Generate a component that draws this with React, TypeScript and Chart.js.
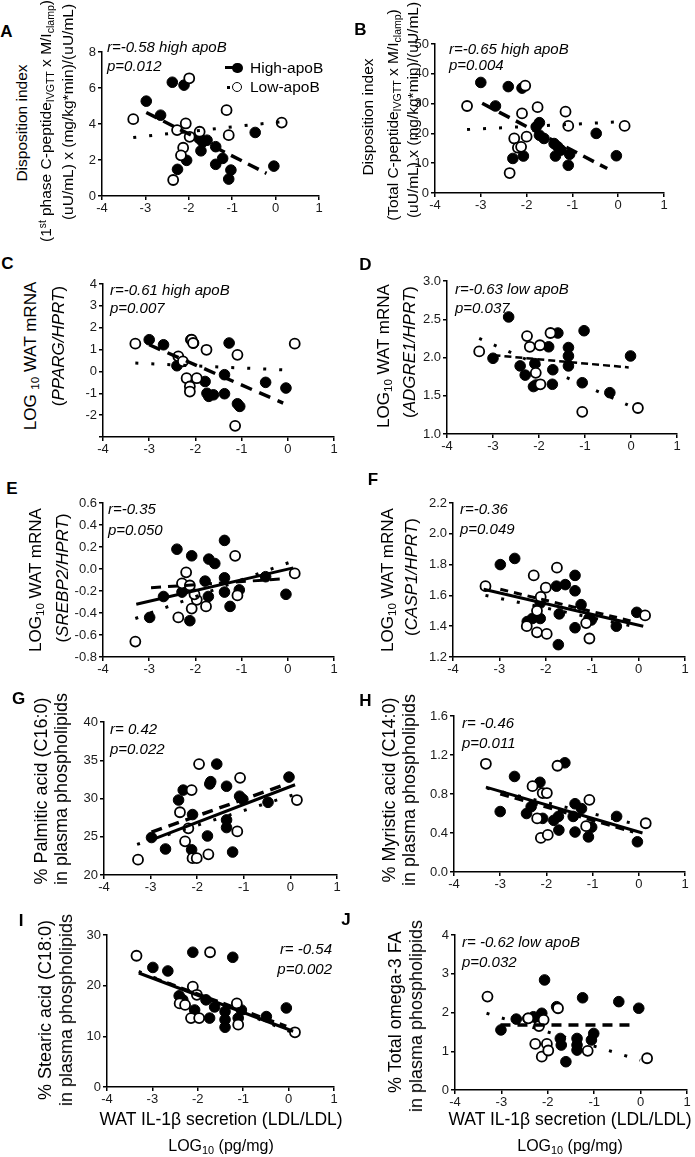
import React, { useEffect, useRef } from 'react';
import { Chart, registerables } from 'chart.js';

Chart.register(...registerables);

type Pt = [number, number];

const FONT = '"Liberation Sans", Arial, Helvetica, sans-serif';

// ---------- shared x axis ----------
const X_MIN = -4;
const X_MAX = 1;
const X_STEP = 1;

// ---------- A ----------
const A_HIGH: Pt[] = [[-2.98, 5.27], [-2.65, 4.49], [-2.38, 6.32], [-2.11, 6.16], [-2.26, 1.48], [-2.05, 1.98], [-1.76, 3.2], [-1.68, 3.0], [-1.58, 3.1], [-1.72, 2.51], [-1.38, 2.74], [-1.22, 2.09], [-1.38, 1.76], [-1.03, 1.44], [-1.08, 0.94], [-0.47, 3.53], [-0.04, 1.66]];
const A_LOW: Pt[] = [[-3.28, 4.27], [-1.99, 6.54], [-2.36, 0.89], [-2.27, 3.66], [-2.07, 4.03], [-1.98, 3.29], [-2.13, 2.68], [-2.18, 2.26], [-1.75, 3.57], [-1.13, 4.77], [-1.08, 3.38], [0.14, 4.08]];
const A_FIT_HIGH: Pt[] = [[-2.98, 4.64], [-0.21, 1.26]];
const A_FIT_LOW: Pt[] = [[-3.28, 3.25], [0.1, 4.12]];

// ---------- B ----------
const B_HIGH: Pt[] = [[-3.0, 37.1], [-2.68, 29.2], [-2.4, 35.7], [-2.1, 35.2], [-2.3, 11.6], [-2.07, 12.4], [-1.79, 22.2], [-1.72, 23.6], [-1.72, 19.4], [-1.62, 18.3], [-1.4, 16.6], [-1.32, 15.5], [-1.37, 12.4], [-1.25, 14.4], [-1.06, 13.0], [-1.09, 9.3], [-0.48, 20.0], [-0.04, 12.5]];
const B_LOW: Pt[] = [[-3.3, 29.2], [-2.37, 6.7], [-2.27, 18.3], [-2.19, 15.2], [-2.12, 15.5], [-2.1, 26.7], [-2.0, 18.9], [-2.03, 36.0], [-1.76, 28.8], [-1.15, 27.3], [-1.09, 22.5], [0.14, 22.5]];
const B_FIT_HIGH: Pt[] = [[-2.97, 30.1], [-0.24, 8.2]];
const B_FIT_LOW: Pt[] = [[-3.3, 21.3], [0.05, 23.9]];

// ---------- C ----------
const C_HIGH: Pt[] = [[-3.0, 1.45], [-2.69, 1.22], [-2.4, 0.26], [-2.29, 0.46], [-2.1, 1.45], [-2.04, 1.3], [-1.79, -0.46], [-1.71, -1.14], [-1.75, -1.0], [-1.61, -1.07], [-1.37, -1.02], [-1.37, -0.15], [-1.27, 1.3], [-1.09, -1.48], [-1.04, -1.6], [-0.48, -0.5], [-0.04, -0.76]];
const C_LOW: Pt[] = [[-3.3, 1.27], [-2.37, 0.69], [-2.27, 0.46], [-2.19, -0.31], [-2.12, -0.69], [-2.12, -0.92], [-2.08, 1.45], [-2.05, 1.3], [-1.97, -0.31], [-1.76, 0.99], [-1.09, 0.76], [-1.14, -2.49], [0.15, 1.27]];
const C_FIT_HIGH: Pt[] = [[-3.0, 1.22], [-0.1, -1.45]];
const C_FIT_LOW: Pt[] = [[-3.3, 0.38], [0.12, 0.05]];

// ---------- D ----------
const D_HIGH: Pt[] = [[-3.0, 1.99], [-2.66, 2.53], [-2.41, 1.89], [-2.3, 1.77], [-2.09, 1.92], [-2.07, 1.64], [-2.12, 1.62], [-1.79, 2.14], [-1.7, 1.84], [-1.71, 1.65], [-1.59, 2.32], [-1.36, 2.13], [-1.36, 2.02], [-1.36, 1.89], [-1.02, 2.35], [-1.06, 1.67], [-0.46, 1.54], [-0.01, 2.02]];
const D_LOW: Pt[] = [[-3.3, 2.08], [-2.26, 2.28], [-2.2, 2.14], [-1.98, 2.16], [-2.07, 1.8], [-1.97, 1.65], [-1.75, 2.32], [-1.06, 1.29], [0.15, 1.34]];
const D_FIT_HIGH: Pt[] = [[-2.99, 2.03], [-0.05, 1.87]];
const D_FIT_LOW: Pt[] = [[-3.3, 2.25], [-0.07, 1.38]];

// ---------- E ----------
const E_HIGH: Pt[] = [[-2.99, -0.44], [-2.69, -0.25], [-2.4, 0.18], [-2.29, -0.21], [-2.08, 0.12], [-2.12, -0.47], [-1.79, -0.11], [-1.71, 0.09], [-1.58, 0.05], [-1.72, -0.25], [-1.37, 0.26], [-1.37, -0.08], [-1.37, -0.21], [-1.25, -0.34], [-1.05, -0.19], [-0.48, -0.07], [-0.04, -0.23]];
const E_LOW: Pt[] = [[-3.3, -0.66], [-2.37, -0.44], [-2.2, -0.03], [-2.29, -0.13], [-2.12, -0.15], [-2.08, -0.36], [-1.97, -0.28], [-2.02, -0.23], [-1.77, -0.34], [-1.14, 0.12], [-1.09, -0.24], [0.15, -0.04]];
const E_FIT_ALL: Pt[] = [[-3.28, -0.32], [0.12, 0.01]];
const E_FIT_HIGH: Pt[] = [[-2.96, -0.17], [-0.12, -0.09]];
const E_FIT_LOW: Pt[] = [[-3.3, -0.45], [0.1, 0.07]];

// ---------- F ----------
const F_HIGH: Pt[] = [[-2.98, 1.8], [-2.67, 1.84], [-2.4, 1.43], [-2.29, 1.45], [-2.12, 1.55], [-2.12, 1.45], [-1.77, 1.66], [-1.73, 1.28], [-1.71, 1.48], [-1.58, 1.67], [-1.37, 1.73], [-1.37, 1.63], [-1.37, 1.39], [-1.24, 1.54], [-1.02, 1.44], [-1.07, 1.45], [-0.48, 1.4], [-0.04, 1.49]];
const F_LOW: Pt[] = [[-3.3, 1.66], [-2.26, 1.73], [-2.11, 1.59], [-2.19, 1.5], [-2.19, 1.36], [-1.98, 1.35], [-2.41, 1.4], [-2.0, 1.65], [-1.76, 1.78], [-1.13, 1.42], [-1.06, 1.32], [0.14, 1.47]];
const F_FIT_ALL: Pt[] = [[-3.34, 1.64], [0.1, 1.4]];
const F_FIT_HIGH: Pt[] = [[-2.98, 1.64], [-0.11, 1.43]];
const F_FIT_LOW: Pt[] = [[-3.3, 1.6], [0.03, 1.39]];

// ---------- G ----------
const G_HIGH: Pt[] = [[-2.98, 24.9], [-2.68, 23.4], [-2.4, 29.8], [-2.3, 31.1], [-2.1, 27.9], [-2.12, 23.3], [-1.78, 25.1], [-1.73, 31.9], [-1.71, 32.2], [-1.58, 34.5], [-1.37, 31.6], [-1.37, 27.2], [-1.37, 26.2], [-1.24, 23.0], [-1.09, 30.3], [-1.02, 29.9], [-0.48, 29.5], [-0.03, 32.8]];
const G_LOW: Pt[] = [[-3.27, 22.0], [-2.37, 28.2], [-2.12, 31.1], [-2.19, 26.1], [-2.26, 24.4], [-2.1, 22.2], [-2.01, 22.2], [-1.96, 34.5], [-1.76, 22.7], [-1.08, 32.7], [-1.14, 25.7], [0.14, 29.8]];
const G_FIT_ALL: Pt[] = [[-2.98, 24.6], [0.1, 31.8]];
const G_FIT_HIGH: Pt[] = [[-2.98, 25.6], [-0.08, 31.9]];
const G_FIT_LOW: Pt[] = [[-3.29, 24.0], [0.07, 30.5]];

// ---------- H ----------
const H_HIGH: Pt[] = [[-3.0, 0.62], [-2.69, 0.98], [-2.43, 0.6], [-2.33, 0.67], [-2.14, 0.92], [-2.08, 0.55], [-1.84, 0.53], [-1.74, 0.57], [-1.73, 0.43], [-1.6, 1.12], [-1.38, 0.7], [-1.42, 0.57], [-1.38, 0.41], [-1.24, 0.65], [-1.09, 0.36], [-1.02, 0.46], [-0.48, 0.57], [-0.03, 0.31]];
const H_LOW: Pt[] = [[-3.31, 1.11], [-2.3, 0.88], [-2.2, 0.55], [-2.12, 0.35], [-1.97, 0.38], [-2.08, 0.81], [-1.99, 0.81], [-1.76, 1.09], [-1.14, 0.47], [-1.07, 0.74], [0.15, 0.5]];
const H_FIT_ALL: Pt[] = [[-3.31, 0.87], [0.08, 0.4]];
const H_FIT_HIGH: Pt[] = [[-3.0, 0.8], [-0.12, 0.41]];
const H_FIT_LOW: Pt[] = [[-3.29, 0.86], [0.03, 0.48]];

// ---------- I ----------
const I_HIGH: Pt[] = [[-2.99, 23.6], [-2.66, 22.9], [-2.41, 18.0], [-2.33, 17.2], [-2.11, 26.6], [-2.07, 15.2], [-1.82, 17.2], [-1.74, 13.6], [-1.63, 15.8], [-1.4, 14.9], [-1.4, 13.3], [-1.4, 11.8], [-1.23, 25.6], [-1.11, 13.6], [-1.04, 15.2], [-0.49, 13.9], [-0.05, 15.6]];
const I_LOW: Pt[] = [[-3.35, 25.9], [-2.4, 16.5], [-2.28, 16.2], [-2.11, 19.8], [-2.15, 13.6], [-1.97, 13.6], [-2.02, 18.2], [-1.73, 26.6], [-1.14, 16.5], [-1.11, 12.3], [0.14, 10.8]];
const I_FIT_ALL: Pt[] = [[-3.3, 22.5], [0.1, 11.0]];
const I_FIT_HIGH: Pt[] = [[-2.99, 21.6], [-0.05, 12.0]];
const I_FIT_LOW: Pt[] = [[-3.3, 22.8], [0.1, 10.7]];

// ---------- J ----------
const J_HIGH: Pt[] = [[-3.01, 1.55], [-2.68, 1.83], [-2.43, 1.85], [-2.31, 1.89], [-2.13, 1.98], [-2.07, 2.84], [-2.2, 1.81], [-1.81, 2.15], [-1.73, 1.33], [-1.71, 1.16], [-1.61, 0.73], [-1.37, 1.33], [-1.37, 1.16], [-1.37, 1.03], [-1.25, 2.38], [-1.06, 1.29], [-1.01, 1.46], [-0.47, 2.28], [-0.04, 2.11]];
const J_LOW: Pt[] = [[-3.3, 2.41], [-2.42, 1.85], [-2.19, 1.65], [-2.09, 1.81], [-2.27, 1.19], [-2.13, 0.86], [-2.02, 1.19], [-1.99, 1.02], [-1.78, 2.11], [-1.14, 1.01], [0.14, 0.82]];
const J_FIT_HIGH: Pt[] = [[-3.02, 1.68], [-0.12, 1.68]];
const J_FIT_LOW: Pt[] = [[-3.32, 1.98], [-0.01, 0.77]];

// ---------- layout / style ----------
const YW = 46, XH = 30, PT = 10, PR = 14;

interface TitleLine { node: React.ReactNode; x: number; y: number; }
interface PanelDef {
  key: string;
  letter: [number, number];
  box: [number, number, number, number];
  yMin: number; yMax: number; yStep: number; yDec: number; hideY?: number[];
  high: Pt[]; low: Pt[];
  fitAll?: Pt[]; fitHigh?: Pt[]; fitLow?: Pt[];
  dash: number[]; dashW: number;
  titleSize: number; title: TitleLine[];
  ann: { r: string; p: string; x: number; yr: number; yp: number; right?: boolean };
}

const sub = (t: string) => <span style={{ fontSize: '0.68em', verticalAlign: '-0.28em' }}>{t}</span>;
const sup = (t: string) => <span style={{ fontSize: '0.65em', verticalAlign: '0.5em' }}>{t}</span>;
const it = (t: string) => <span style={{ fontStyle: 'italic' }}>{t}</span>;

const LOG_WAT = <>LOG{sub('10')} WAT mRNA</>;

const PANELS: PanelDef[] = [
  {
    key: 'A', letter: [6.5, 31], box: [102, 52, 319, 196], yMin: 0, yMax: 8, yStep: 2, yDec: 0,
    high: A_HIGH, low: A_LOW, fitHigh: A_FIT_HIGH, fitLow: A_FIT_LOW, dash: [12, 7], dashW: 3.5,
    titleSize: 15.5,
    title: [
      { node: 'Disposition index', x: 21.5, y: 123 },
      { node: <>(1{sup('st')} phase C-peptide{sub('IVGTT')} x M/I{sub('clamp')})</>, x: 47, y: 121 },
      { node: '(uU/mL) x (mg/kg*min)/(uU/mL)', x: 67.5, y: 112 },
    ],
    ann: { r: 'r=-0.58 high apoB', p: 'p=0.012', x: 107, yr: 46, yp: 64.5 },
  },
  {
    key: 'B', letter: [360.5, 29], box: [435, 44, 664, 193], yMin: 0, yMax: 50, yStep: 10, yDec: 0,
    high: B_HIGH, low: B_LOW, fitHigh: B_FIT_HIGH, fitLow: B_FIT_LOW, dash: [12, 7], dashW: 3.5,
    titleSize: 15.5,
    title: [
      { node: 'Disposition index', x: 367.5, y: 117 },
      { node: <>(Total C-peptide{sub('IVGTT')} x M/I{sub('clamp')})</>, x: 393.5, y: 115 },
      { node: '(uU/mL) x (mg/kg*min)/(uU/mL)', x: 413, y: 110 },
    ],
    ann: { r: 'r=-0.65 high apoB', p: 'p=0.004', x: 449, yr: 47.5, yp: 64 },
  },
  {
    key: 'C', letter: [7.5, 262.5], box: [103, 284, 334, 437], yMin: -3, yMax: 4, yStep: 1, yDec: 0, hideY: [-3],
    high: C_HIGH, low: C_LOW, fitHigh: C_FIT_HIGH, fitLow: C_FIT_LOW, dash: [12, 8], dashW: 3.5,
    titleSize: 17,
    title: [
      { node: <>LOG {sub('10')} WAT mRNA</>, x: 32, y: 356 },
      { node: <>({it('PPARG/HPRT')})</>, x: 57.5, y: 346 },
    ],
    ann: { r: 'r=-0.61 high apoB', p: 'p=0.007', x: 110, yr: 289, yp: 307 },
  },
  {
    key: 'D', letter: [365.5, 264], box: [447, 281, 677, 434], yMin: 1, yMax: 3, yStep: 0.5, yDec: 1,
    high: D_HIGH, low: D_LOW, fitHigh: D_FIT_HIGH, fitLow: D_FIT_LOW, dash: [7, 4], dashW: 2.5,
    titleSize: 17,
    title: [
      { node: LOG_WAT, x: 384.5, y: 356 },
      { node: <>({it('ADGRE1/HPRT')})</>, x: 408.5, y: 351.5 },
    ],
    ann: { r: 'r=-0.63 low apoB', p: 'p=0.037', x: 455, yr: 287.5, yp: 307 },
  },
  {
    key: 'E', letter: [12, 488], box: [103, 503, 334, 657], yMin: -0.8, yMax: 0.6, yStep: 0.2, yDec: 1,
    high: E_HIGH, low: E_LOW, fitAll: E_FIT_ALL, fitHigh: E_FIT_HIGH, fitLow: E_FIT_LOW, dash: [10, 7], dashW: 3,
    titleSize: 17,
    title: [
      { node: LOG_WAT, x: 37, y: 580 },
      { node: <>({it('SREBP2/HPRT')})</>, x: 62, y: 578 },
    ],
    ann: { r: 'r=-0.35', p: 'p=0.050', x: 108, yr: 507.5, yp: 529 },
  },
  {
    key: 'F', letter: [373, 479], box: [453, 503, 685, 657], yMin: 1.2, yMax: 2.2, yStep: 0.2, yDec: 1,
    high: F_HIGH, low: F_LOW, fitAll: F_FIT_ALL, fitHigh: F_FIT_HIGH, fitLow: F_FIT_LOW, dash: [8, 6], dashW: 3,
    titleSize: 17,
    title: [
      { node: LOG_WAT, x: 389, y: 580 },
      { node: <>({it('CASP1/HPRT')})</>, x: 411, y: 577 },
    ],
    ann: { r: 'r=-0.36', p: 'p=0.049', x: 460, yr: 507.5, yp: 528 },
  },
  {
    key: 'G', letter: [18.5, 698], box: [104, 722, 337, 875], yMin: 20, yMax: 40, yStep: 5, yDec: 0,
    high: G_HIGH, low: G_LOW, fitAll: G_FIT_ALL, fitHigh: G_FIT_HIGH, fitLow: G_FIT_LOW, dash: [11, 7], dashW: 3.5,
    titleSize: 18,
    title: [
      { node: '% Palmitic acid (C16:0)', x: 41, y: 791 },
      { node: 'in plasma phospholipids', x: 61, y: 789 },
    ],
    ann: { r: 'r= 0.42', p: 'p=0.022', x: 110, yr: 728, yp: 748 },
  },
  {
    key: 'H', letter: [365.5, 700], box: [454, 716, 685, 872], yMin: 0, yMax: 1.6, yStep: 0.4, yDec: 1,
    high: H_HIGH, low: H_LOW, fitAll: H_FIT_ALL, fitHigh: H_FIT_HIGH, fitLow: H_FIT_LOW, dash: [9, 6], dashW: 3,
    titleSize: 18,
    title: [
      { node: '% Myristic acid (C14:0)', x: 389, y: 790 },
      { node: 'in plasma phospholipids', x: 409, y: 790 },
    ],
    ann: { r: 'r= -0.46', p: 'p=0.011', x: 462, yr: 722, yp: 742 },
  },
  {
    key: 'I', letter: [21, 920], box: [107, 935, 334, 1087], yMin: 0, yMax: 30, yStep: 10, yDec: 0,
    high: I_HIGH, low: I_LOW, fitAll: I_FIT_ALL, fitHigh: I_FIT_HIGH, fitLow: I_FIT_LOW, dash: [9, 6], dashW: 3,
    titleSize: 18,
    title: [
      { node: '% Stearic acid (C18:0)', x: 45, y: 1010 },
      { node: 'in plasma phospholipids', x: 66, y: 1010 },
    ],
    ann: { r: 'r= -0.54', p: 'p=0.002', x: 332, yr: 947.5, yp: 967.5, right: true },
  },
  {
    key: 'J', letter: [346, 919], box: [455, 935, 687, 1090], yMin: 0, yMax: 4, yStep: 1, yDec: 0,
    high: J_HIGH, low: J_LOW, fitHigh: J_FIT_HIGH, fitLow: J_FIT_LOW, dash: [10, 7], dashW: 3.5,
    titleSize: 18,
    title: [
      { node: '% Total omega-3 FA', x: 395, y: 1012 },
      { node: 'in plasma phospholipids', x: 416, y: 1016 },
    ],
    ann: { r: 'r= -0.62 low apoB', p: 'p=0.032', x: 462, yr: 941, yp: 961 },
  },
];

function Panel({ def }: { def: PanelDef }) {
  const ref = useRef<HTMLCanvasElement | null>(null);
  const [l, t, r, b] = def.box;
  const w = r - l + YW + PR;
  const h = b - t + PT + XH;
  useEffect(() => {
    const c = ref.current;
    if (!c) return;
    const toXY = (pts: Pt[]) => pts.map(([x, y]) => ({ x, y }));
    const lineSet = (pts: Pt[], dash: number[], width: number) => ({
      data: toXY(pts), showLine: true, borderColor: '#000', backgroundColor: '#000',
      borderWidth: width, borderDash: dash, pointRadius: 0, pointHoverRadius: 0, fill: false,
    });
    const datasets: any[] = [];
    if (def.fitAll) datasets.push(lineSet(def.fitAll, [], 3));
    if (def.fitHigh) datasets.push(lineSet(def.fitHigh, def.dash, def.dashW));
    if (def.fitLow) datasets.push(lineSet(def.fitLow, [3, 13], 3));
    datasets.push({ data: toXY(def.low), showLine: false, pointRadius: 5, pointBackgroundColor: '#fff', pointBorderColor: '#000', pointBorderWidth: 1.8 });
    datasets.push({ data: toXY(def.high), showLine: false, pointRadius: 5.3, pointBackgroundColor: '#000', pointBorderColor: '#000', pointBorderWidth: 1 });
    const tickFont = { family: FONT, size: 13 };
    const chart = new Chart(c, {
      type: 'scatter',
      data: { datasets },
      options: {
        responsive: false,
        animation: false,
        devicePixelRatio: 1,
        events: [],
        layout: { padding: { top: PT, right: PR, left: 0, bottom: 0 } },
        plugins: { legend: { display: false }, tooltip: { enabled: false } },
        scales: {
          x: {
            type: 'linear', position: 'bottom', min: X_MIN, max: X_MAX,
            afterFit: (s: any) => { s.height = XH; },
            ticks: { stepSize: X_STEP, color: '#1a1a1a', font: tickFont, padding: 1, maxRotation: 0, autoSkip: false, callback: (v: any) => String(Math.round(Number(v))) },
            grid: { display: true, drawOnChartArea: false, drawTicks: true, tickLength: 4, color: '#000', lineWidth: 1.5 },
            border: { display: true, color: '#000', width: 1.5 },
          },
          y: {
            type: 'linear', position: 'left', min: def.yMin, max: def.yMax,
            afterFit: (s: any) => { s.width = YW; },
            ticks: {
              stepSize: def.yStep, color: '#1a1a1a', font: tickFont, padding: 2, autoSkip: false,
              callback: (v: any) => {
                let n = Number(v);
                if (Math.abs(n) < 1e-9) n = 0;
                if (def.hideY && def.hideY.some((q) => Math.abs(q - n) < 1e-9)) return '';
                return n.toFixed(def.yDec);
              },
            },
            grid: { display: true, drawOnChartArea: false, drawTicks: true, tickLength: 4, color: '#000', lineWidth: 1.5 },
            border: { display: true, color: '#000', width: 1.5 },
          },
        },
      } as any,
    });
    return () => chart.destroy();
  }, [def]);
  return (
    <canvas
      ref={ref}
      width={w}
      height={h}
      style={{ position: 'absolute', left: l - YW, top: t - PT, width: w, height: h }}
    />
  );
}

function Rot({ x, y, size, children }: { x: number; y: number; size: number; children: React.ReactNode }) {
  return (
    <div style={{ position: 'absolute', left: x, top: y, transform: 'translate(-50%, -50%) rotate(-90deg)', whiteSpace: 'nowrap', fontSize: size, lineHeight: 1, fontFamily: FONT, color: '#000' }}>
      {children}
    </div>
  );
}

function Txt({ x, y, size, children, italic, bold, right, center }: { x: number; y: number; size: number; children: React.ReactNode; italic?: boolean; bold?: boolean; right?: boolean; center?: boolean }) {
  const tx = right ? '-100%' : center ? '-50%' : '0';
  return (
    <div style={{ position: 'absolute', left: x, top: y, transform: `translate(${tx}, -50%)`, whiteSpace: 'nowrap', fontSize: size, lineHeight: 1, fontFamily: FONT, fontStyle: italic ? 'italic' : 'normal', fontWeight: bold ? 700 : 400, color: '#000' }}>
      {children}
    </div>
  );
}

export default function App() {
  return (
    <div style={{ position: 'absolute', left: 0, top: 0, width: 695, height: 1157, background: '#fff', overflow: 'hidden' }}>
      {PANELS.map((p) => (
        <React.Fragment key={p.key}>
          <Panel def={p} />
          <Txt x={p.letter[0]} y={p.letter[1]} size={17} bold center>{p.key}</Txt>
          {p.title.map((tl, i) => (
            <Rot key={i} x={tl.x} y={tl.y} size={p.titleSize}>{tl.node}</Rot>
          ))}
          <Txt x={p.ann.x} y={p.ann.yr} size={15} italic right={p.ann.right}>{p.ann.r}</Txt>
          <Txt x={p.ann.x} y={p.ann.yp} size={15} italic right={p.ann.right}>{p.ann.p}</Txt>
        </React.Fragment>
      ))}
      {/* legend (panel A) */}
      <div style={{ position: 'absolute', left: 225, top: 66, width: 8, height: 3, background: '#000' }} />
      <div style={{ position: 'absolute', left: 232, top: 62.5, width: 10.5, height: 10.5, borderRadius: '50%', background: '#000' }} />
      <Txt x={250} y={67.5} size={15.5}>High-apoB</Txt>
      <div style={{ position: 'absolute', left: 227, top: 86, width: 3, height: 3, background: '#000' }} />
      <div style={{ position: 'absolute', left: 232, top: 82, width: 10, height: 10, borderRadius: '50%', background: '#fff', border: '1.8px solid #000', boxSizing: 'border-box' }} />
      <Txt x={250} y={87} size={15.5}>Low-apoB</Txt>
      {/* x axis titles */}
      <Txt x={221} y={1120} size={17.5} center>WAT IL-1β secretion (LDL/LDL)</Txt>
      <Txt x={221} y={1147} size={16} center>LOG{sub('10')} (pg/mg)</Txt>
      <Txt x={570} y={1120} size={17.5} center>WAT IL-1β secretion (LDL/LDL)</Txt>
      <Txt x={570} y={1147} size={16} center>LOG{sub('10')} (pg/mg)</Txt>
    </div>
  );
}
